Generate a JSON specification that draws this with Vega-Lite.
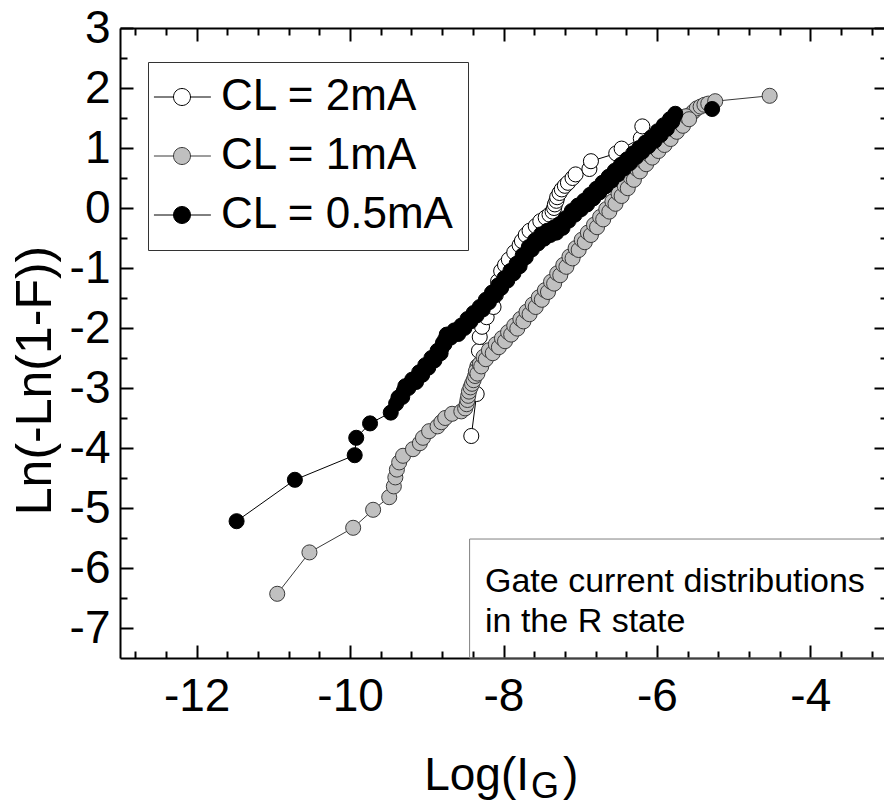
{
"$schema": "https://vega.github.io/schema/vega-lite/v6.json",
"width": 764, "height": 630,
"autosize": {"type": "none"},
"padding": {"left": 120, "top": 28, "right": 0, "bottom": 152},
"background": "white",
"config": {
  "view": {"stroke": null},
  "axis": {"grid": false, "domainColor": "black", "domainWidth": 2, "tickColor": "black", "tickWidth": 2, "labelFont": "Liberation Sans", "labelFontSize": 46, "labelColor": "black", "titleColor": "black", "titleFont": "Liberation Sans", "titleFontWeight": "normal", "labelFlush": false, "labelOverlap": false, "zindex": 1},
  "text": {"font": "Liberation Sans", "color": "black"}
},
"data": {"values": [
{"s":"CL = 2mA","x":-8.42,"y":-3.80},{"s":"CL = 2mA","x":-8.35,"y":-3.10},{"s":"CL = 2mA","x":-8.34,"y":-2.64},{"s":"CL = 2mA","x":-8.32,"y":-2.38},{"s":"CL = 2mA","x":-8.31,"y":-2.15},{"s":"CL = 2mA","x":-8.28,"y":-1.98},{"s":"CL = 2mA","x":-8.22,"y":-1.82},{"s":"CL = 2mA","x":-8.13,"y":-1.65},{"s":"CL = 2mA","x":-8.10,"y":-1.45},{"s":"CL = 2mA","x":-8.07,"y":-1.22},{"s":"CL = 2mA","x":-8.03,"y":-1.05},{"s":"CL = 2mA","x":-7.98,"y":-0.95},{"s":"CL = 2mA","x":-7.93,"y":-0.86},{"s":"CL = 2mA","x":-7.86,"y":-0.74},{"s":"CL = 2mA","x":-7.79,"y":-0.62},{"s":"CL = 2mA","x":-7.76,"y":-0.55},{"s":"CL = 2mA","x":-7.71,"y":-0.45},{"s":"CL = 2mA","x":-7.66,"y":-0.38},{"s":"CL = 2mA","x":-7.58,"y":-0.30},{"s":"CL = 2mA","x":-7.52,"y":-0.22},{"s":"CL = 2mA","x":-7.45,"y":-0.16},{"s":"CL = 2mA","x":-7.40,"y":-0.11},{"s":"CL = 2mA","x":-7.36,"y":-0.06},{"s":"CL = 2mA","x":-7.34,"y":0.00},{"s":"CL = 2mA","x":-7.33,"y":0.06},{"s":"CL = 2mA","x":-7.31,"y":0.12},{"s":"CL = 2mA","x":-7.30,"y":0.18},{"s":"CL = 2mA","x":-7.27,"y":0.25},{"s":"CL = 2mA","x":-7.24,"y":0.31},{"s":"CL = 2mA","x":-7.20,"y":0.37},{"s":"CL = 2mA","x":-7.16,"y":0.42},{"s":"CL = 2mA","x":-7.10,"y":0.50},{"s":"CL = 2mA","x":-7.06,"y":0.56},{"s":"CL = 2mA","x":-6.88,"y":0.65},{"s":"CL = 2mA","x":-6.86,"y":0.78},{"s":"CL = 2mA","x":-6.53,"y":0.91},{"s":"CL = 2mA","x":-6.46,"y":0.99},{"s":"CL = 2mA","x":-6.21,"y":1.16},{"s":"CL = 2mA","x":-6.19,"y":1.36},
{"s":"CL = 1mA","x":-10.95,"y":-6.43},{"s":"CL = 1mA","x":-10.53,"y":-5.74},{"s":"CL = 1mA","x":-9.96,"y":-5.33},{"s":"CL = 1mA","x":-9.70,"y":-5.03},{"s":"CL = 1mA","x":-9.49,"y":-4.82},{"s":"CL = 1mA","x":-9.43,"y":-4.64},{"s":"CL = 1mA","x":-9.41,"y":-4.49},{"s":"CL = 1mA","x":-9.39,"y":-4.36},{"s":"CL = 1mA","x":-9.36,"y":-4.24},{"s":"CL = 1mA","x":-9.31,"y":-4.13},{"s":"CL = 1mA","x":-9.18,"y":-4.02},{"s":"CL = 1mA","x":-9.09,"y":-3.92},{"s":"CL = 1mA","x":-9.05,"y":-3.83},{"s":"CL = 1mA","x":-8.97,"y":-3.72},{"s":"CL = 1mA","x":-8.86,"y":-3.64},{"s":"CL = 1mA","x":-8.81,"y":-3.57},{"s":"CL = 1mA","x":-8.76,"y":-3.50},{"s":"CL = 1mA","x":-8.67,"y":-3.43},{"s":"CL = 1mA","x":-8.55,"y":-3.39},{"s":"CL = 1mA","x":-8.50,"y":-3.34},{"s":"CL = 1mA","x":-8.48,"y":-3.27},{"s":"CL = 1mA","x":-8.47,"y":-3.20},{"s":"CL = 1mA","x":-8.46,"y":-3.13},{"s":"CL = 1mA","x":-8.45,"y":-3.06},{"s":"CL = 1mA","x":-8.43,"y":-2.99},{"s":"CL = 1mA","x":-8.41,"y":-2.93},{"s":"CL = 1mA","x":-8.39,"y":-2.87},{"s":"CL = 1mA","x":-8.37,"y":-2.80},{"s":"CL = 1mA","x":-8.35,"y":-2.74},{"s":"CL = 1mA","x":-8.33,"y":-2.68},{"s":"CL = 1mA","x":-8.30,"y":-2.62},{"s":"CL = 1mA","x":-8.28,"y":-2.56},{"s":"CL = 1mA","x":-8.25,"y":-2.50},{"s":"CL = 1mA","x":-8.21,"y":-2.45},{"s":"CL = 1mA","x":-8.17,"y":-2.40},{"s":"CL = 1mA","x":-8.12,"y":-2.35},{"s":"CL = 1mA","x":-8.08,"y":-2.30},{"s":"CL = 1mA","x":-8.04,"y":-2.25},{"s":"CL = 1mA","x":-8.00,"y":-2.20},{"s":"CL = 1mA","x":-7.96,"y":-2.15},{"s":"CL = 1mA","x":-7.92,"y":-2.09},{"s":"CL = 1mA","x":-7.88,"y":-2.04},{"s":"CL = 1mA","x":-7.84,"y":-1.99},{"s":"CL = 1mA","x":-7.80,"y":-1.93},{"s":"CL = 1mA","x":-7.76,"y":-1.87},{"s":"CL = 1mA","x":-7.72,"y":-1.81},{"s":"CL = 1mA","x":-7.68,"y":-1.75},{"s":"CL = 1mA","x":-7.64,"y":-1.69},{"s":"CL = 1mA","x":-7.60,"y":-1.63},{"s":"CL = 1mA","x":-7.56,"y":-1.57},{"s":"CL = 1mA","x":-7.52,"y":-1.51},{"s":"CL = 1mA","x":-7.48,"y":-1.45},{"s":"CL = 1mA","x":-7.44,"y":-1.39},{"s":"CL = 1mA","x":-7.40,"y":-1.32},{"s":"CL = 1mA","x":-7.36,"y":-1.25},{"s":"CL = 1mA","x":-7.32,"y":-1.18},{"s":"CL = 1mA","x":-7.28,"y":-1.11},{"s":"CL = 1mA","x":-7.24,"y":-1.04},{"s":"CL = 1mA","x":-7.20,"y":-0.97},{"s":"CL = 1mA","x":-7.16,"y":-0.90},{"s":"CL = 1mA","x":-7.12,"y":-0.83},{"s":"CL = 1mA","x":-7.08,"y":-0.76},{"s":"CL = 1mA","x":-7.04,"y":-0.69},{"s":"CL = 1mA","x":-7.00,"y":-0.62},{"s":"CL = 1mA","x":-6.96,"y":-0.55},{"s":"CL = 1mA","x":-6.92,"y":-0.49},{"s":"CL = 1mA","x":-6.88,"y":-0.43},{"s":"CL = 1mA","x":-6.84,"y":-0.37},{"s":"CL = 1mA","x":-6.80,"y":-0.30},{"s":"CL = 1mA","x":-6.76,"y":-0.24},{"s":"CL = 1mA","x":-6.72,"y":-0.17},{"s":"CL = 1mA","x":-6.68,"y":-0.11},{"s":"CL = 1mA","x":-6.64,"y":-0.04},{"s":"CL = 1mA","x":-6.60,"y":0.02},{"s":"CL = 1mA","x":-6.56,"y":0.09},{"s":"CL = 1mA","x":-6.52,"y":0.15},{"s":"CL = 1mA","x":-6.48,"y":0.22},{"s":"CL = 1mA","x":-6.44,"y":0.29},{"s":"CL = 1mA","x":-6.40,"y":0.35},{"s":"CL = 1mA","x":-6.36,"y":0.42},{"s":"CL = 1mA","x":-6.32,"y":0.49},{"s":"CL = 1mA","x":-6.28,"y":0.56},{"s":"CL = 1mA","x":-6.24,"y":0.63},{"s":"CL = 1mA","x":-6.20,"y":0.70},{"s":"CL = 1mA","x":-6.16,"y":0.76},{"s":"CL = 1mA","x":-6.12,"y":0.81},{"s":"CL = 1mA","x":-6.08,"y":0.87},{"s":"CL = 1mA","x":-6.04,"y":0.92},{"s":"CL = 1mA","x":-6.00,"y":0.98},{"s":"CL = 1mA","x":-5.96,"y":1.03},{"s":"CL = 1mA","x":-5.92,"y":1.08},{"s":"CL = 1mA","x":-5.88,"y":1.13},{"s":"CL = 1mA","x":-5.84,"y":1.18},{"s":"CL = 1mA","x":-5.80,"y":1.23},{"s":"CL = 1mA","x":-5.76,"y":1.29},{"s":"CL = 1mA","x":-5.72,"y":1.35},{"s":"CL = 1mA","x":-5.68,"y":1.40},{"s":"CL = 1mA","x":-5.64,"y":1.45},{"s":"CL = 1mA","x":-5.60,"y":1.51},{"s":"CL = 1mA","x":-5.56,"y":1.56},{"s":"CL = 1mA","x":-5.52,"y":1.61},{"s":"CL = 1mA","x":-5.48,"y":1.66},{"s":"CL = 1mA","x":-5.43,"y":1.69},{"s":"CL = 1mA","x":-5.38,"y":1.72},{"s":"CL = 1mA","x":-5.33,"y":1.74},{"s":"CL = 1mA","x":-5.24,"y":1.78},{"s":"CL = 1mA","x":-4.53,"y":1.87},
{"s":"CL = 1mA","x":-8.36,"y":-2.72},{"s":"CL = 1mA","x":-8.34,"y":-2.76},{"s":"CL = 1mA","x":-8.31,"y":-2.60},{"s":"CL = 1mA","x":-8.29,"y":-2.64},{"s":"CL = 1mA","x":-8.26,"y":-2.48},{"s":"CL = 1mA","x":-8.23,"y":-2.52},{"s":"CL = 1mA","x":-8.19,"y":-2.37},{"s":"CL = 1mA","x":-8.14,"y":-2.42},{"s":"CL = 1mA","x":-8.10,"y":-2.27},{"s":"CL = 1mA","x":-8.06,"y":-2.32},{"s":"CL = 1mA","x":-8.02,"y":-2.17},{"s":"CL = 1mA","x":-7.98,"y":-2.22},{"s":"CL = 1mA","x":-7.94,"y":-2.07},{"s":"CL = 1mA","x":-7.90,"y":-2.11},{"s":"CL = 1mA","x":-7.86,"y":-1.96},{"s":"CL = 1mA","x":-7.82,"y":-2.01},{"s":"CL = 1mA","x":-7.78,"y":-1.85},{"s":"CL = 1mA","x":-7.74,"y":-1.89},{"s":"CL = 1mA","x":-7.70,"y":-1.73},{"s":"CL = 1mA","x":-7.66,"y":-1.77},{"s":"CL = 1mA","x":-7.62,"y":-1.61},{"s":"CL = 1mA","x":-7.58,"y":-1.65},{"s":"CL = 1mA","x":-7.54,"y":-1.49},{"s":"CL = 1mA","x":-7.50,"y":-1.53},{"s":"CL = 1mA","x":-7.46,"y":-1.37},{"s":"CL = 1mA","x":-7.42,"y":-1.40},{"s":"CL = 1mA","x":-7.38,"y":-1.23},{"s":"CL = 1mA","x":-7.34,"y":-1.26},{"s":"CL = 1mA","x":-7.30,"y":-1.09},{"s":"CL = 1mA","x":-7.26,"y":-1.12},{"s":"CL = 1mA","x":-7.22,"y":-0.95},{"s":"CL = 1mA","x":-7.18,"y":-0.98},{"s":"CL = 1mA","x":-7.14,"y":-0.81},{"s":"CL = 1mA","x":-7.10,"y":-0.84},{"s":"CL = 1mA","x":-7.06,"y":-0.67},{"s":"CL = 1mA","x":-7.02,"y":-0.70},{"s":"CL = 1mA","x":-6.98,"y":-0.53},{"s":"CL = 1mA","x":-6.94,"y":-0.57},{"s":"CL = 1mA","x":-6.90,"y":-0.41},{"s":"CL = 1mA","x":-6.86,"y":-0.45},{"s":"CL = 1mA","x":-6.82,"y":-0.28},{"s":"CL = 1mA","x":-6.78,"y":-0.32},{"s":"CL = 1mA","x":-6.74,"y":-0.15},{"s":"CL = 1mA","x":-6.70,"y":-0.19},{"s":"CL = 1mA","x":-6.66,"y":-0.02},{"s":"CL = 1mA","x":-6.62,"y":-0.06},{"s":"CL = 1mA","x":-6.58,"y":0.11},{"s":"CL = 1mA","x":-6.54,"y":0.07},{"s":"CL = 1mA","x":-6.50,"y":0.24},{"s":"CL = 1mA","x":-6.46,"y":0.20},{"s":"CL = 1mA","x":-6.42,"y":0.37},{"s":"CL = 1mA","x":-6.38,"y":0.33},{"s":"CL = 1mA","x":-6.34,"y":0.51},{"s":"CL = 1mA","x":-6.30,"y":0.47},{"s":"CL = 1mA","x":-6.26,"y":0.65},{"s":"CL = 1mA","x":-6.22,"y":0.61},{"s":"CL = 1mA","x":-6.18,"y":0.78},{"s":"CL = 1mA","x":-6.14,"y":0.73},{"s":"CL = 1mA","x":-6.10,"y":0.89},{"s":"CL = 1mA","x":-6.06,"y":0.84},{"s":"CL = 1mA","x":-6.02,"y":1.00},{"s":"CL = 1mA","x":-5.98,"y":0.95},{"s":"CL = 1mA","x":-5.94,"y":1.10},{"s":"CL = 1mA","x":-5.90,"y":1.05},{"s":"CL = 1mA","x":-5.86,"y":1.20},{"s":"CL = 1mA","x":-5.82,"y":1.15},{"s":"CL = 1mA","x":-5.78,"y":1.31},{"s":"CL = 1mA","x":-5.74,"y":1.27},{"s":"CL = 1mA","x":-5.70,"y":1.42},{"s":"CL = 1mA","x":-5.66,"y":1.37},{"s":"CL = 1mA","x":-5.62,"y":1.53},{"s":"CL = 1mA","x":-5.58,"y":1.48},
{"s":"CL = 0.5mA","x":-11.48,"y":-5.22},{"s":"CL = 0.5mA","x":-10.72,"y":-4.53},{"s":"CL = 0.5mA","x":-9.94,"y":-4.12},{"s":"CL = 0.5mA","x":-9.92,"y":-3.83},{"s":"CL = 0.5mA","x":-9.74,"y":-3.59},{"s":"CL = 0.5mA","x":-9.47,"y":-3.41},{"s":"CL = 0.5mA","x":-9.40,"y":-3.26},{"s":"CL = 0.5mA","x":-9.35,"y":-3.15},{"s":"CL = 0.5mA","x":-9.30,"y":-3.05},{"s":"CL = 0.5mA","x":-9.27,"y":-2.98},{"s":"CL = 0.5mA","x":-9.22,"y":-2.93},{"s":"CL = 0.5mA","x":-9.17,"y":-2.88},{"s":"CL = 0.5mA","x":-9.12,"y":-2.82},{"s":"CL = 0.5mA","x":-9.08,"y":-2.76},{"s":"CL = 0.5mA","x":-9.04,"y":-2.70},{"s":"CL = 0.5mA","x":-9.00,"y":-2.64},{"s":"CL = 0.5mA","x":-8.96,"y":-2.58},{"s":"CL = 0.5mA","x":-8.92,"y":-2.52},{"s":"CL = 0.5mA","x":-8.88,"y":-2.46},{"s":"CL = 0.5mA","x":-8.84,"y":-2.40},{"s":"CL = 0.5mA","x":-8.81,"y":-2.34},{"s":"CL = 0.5mA","x":-8.78,"y":-2.26},{"s":"CL = 0.5mA","x":-8.76,"y":-2.19},{"s":"CL = 0.5mA","x":-8.72,"y":-2.13},{"s":"CL = 0.5mA","x":-8.67,"y":-2.10},{"s":"CL = 0.5mA","x":-8.62,"y":-2.07},{"s":"CL = 0.5mA","x":-8.57,"y":-2.03},{"s":"CL = 0.5mA","x":-8.53,"y":-1.98},{"s":"CL = 0.5mA","x":-8.49,"y":-1.93},{"s":"CL = 0.5mA","x":-8.45,"y":-1.87},{"s":"CL = 0.5mA","x":-8.41,"y":-1.82},{"s":"CL = 0.5mA","x":-8.37,"y":-1.77},{"s":"CL = 0.5mA","x":-8.33,"y":-1.72},{"s":"CL = 0.5mA","x":-8.29,"y":-1.67},{"s":"CL = 0.5mA","x":-8.25,"y":-1.61},{"s":"CL = 0.5mA","x":-8.21,"y":-1.55},{"s":"CL = 0.5mA","x":-8.17,"y":-1.49},{"s":"CL = 0.5mA","x":-8.13,"y":-1.43},{"s":"CL = 0.5mA","x":-8.09,"y":-1.37},{"s":"CL = 0.5mA","x":-8.05,"y":-1.31},{"s":"CL = 0.5mA","x":-8.01,"y":-1.25},{"s":"CL = 0.5mA","x":-7.97,"y":-1.19},{"s":"CL = 0.5mA","x":-7.93,"y":-1.13},{"s":"CL = 0.5mA","x":-7.89,"y":-1.07},{"s":"CL = 0.5mA","x":-7.85,"y":-1.01},{"s":"CL = 0.5mA","x":-7.81,"y":-0.95},{"s":"CL = 0.5mA","x":-7.77,"y":-0.88},{"s":"CL = 0.5mA","x":-7.73,"y":-0.80},{"s":"CL = 0.5mA","x":-7.69,"y":-0.73},{"s":"CL = 0.5mA","x":-7.65,"y":-0.67},{"s":"CL = 0.5mA","x":-7.61,"y":-0.61},{"s":"CL = 0.5mA","x":-7.57,"y":-0.56},{"s":"CL = 0.5mA","x":-7.53,"y":-0.51},{"s":"CL = 0.5mA","x":-7.49,"y":-0.47},{"s":"CL = 0.5mA","x":-7.45,"y":-0.44},{"s":"CL = 0.5mA","x":-7.41,"y":-0.41},{"s":"CL = 0.5mA","x":-7.37,"y":-0.39},{"s":"CL = 0.5mA","x":-7.33,"y":-0.37},{"s":"CL = 0.5mA","x":-7.29,"y":-0.34},{"s":"CL = 0.5mA","x":-7.25,"y":-0.30},{"s":"CL = 0.5mA","x":-7.21,"y":-0.25},{"s":"CL = 0.5mA","x":-7.17,"y":-0.19},{"s":"CL = 0.5mA","x":-7.13,"y":-0.13},{"s":"CL = 0.5mA","x":-7.09,"y":-0.08},{"s":"CL = 0.5mA","x":-7.05,"y":-0.04},{"s":"CL = 0.5mA","x":-7.01,"y":0.01},{"s":"CL = 0.5mA","x":-6.97,"y":0.05},{"s":"CL = 0.5mA","x":-6.93,"y":0.09},{"s":"CL = 0.5mA","x":-6.89,"y":0.14},{"s":"CL = 0.5mA","x":-6.85,"y":0.19},{"s":"CL = 0.5mA","x":-6.81,"y":0.24},{"s":"CL = 0.5mA","x":-6.77,"y":0.29},{"s":"CL = 0.5mA","x":-6.73,"y":0.34},{"s":"CL = 0.5mA","x":-6.69,"y":0.39},{"s":"CL = 0.5mA","x":-6.65,"y":0.44},{"s":"CL = 0.5mA","x":-6.61,"y":0.49},{"s":"CL = 0.5mA","x":-6.57,"y":0.54},{"s":"CL = 0.5mA","x":-6.53,"y":0.59},{"s":"CL = 0.5mA","x":-6.49,"y":0.64},{"s":"CL = 0.5mA","x":-6.45,"y":0.69},{"s":"CL = 0.5mA","x":-6.41,"y":0.74},{"s":"CL = 0.5mA","x":-6.37,"y":0.78},{"s":"CL = 0.5mA","x":-6.33,"y":0.83},{"s":"CL = 0.5mA","x":-6.29,"y":0.88},{"s":"CL = 0.5mA","x":-6.25,"y":0.93},{"s":"CL = 0.5mA","x":-6.21,"y":0.97},{"s":"CL = 0.5mA","x":-6.17,"y":1.02},{"s":"CL = 0.5mA","x":-6.13,"y":1.06},{"s":"CL = 0.5mA","x":-6.09,"y":1.10},{"s":"CL = 0.5mA","x":-6.05,"y":1.15},{"s":"CL = 0.5mA","x":-6.01,"y":1.20},{"s":"CL = 0.5mA","x":-5.97,"y":1.25},{"s":"CL = 0.5mA","x":-5.93,"y":1.30},{"s":"CL = 0.5mA","x":-5.89,"y":1.35},{"s":"CL = 0.5mA","x":-5.85,"y":1.40},{"s":"CL = 0.5mA","x":-5.81,"y":1.46},{"s":"CL = 0.5mA","x":-5.78,"y":1.52},{"s":"CL = 0.5mA","x":-5.76,"y":1.57},{"s":"CL = 0.5mA","x":-5.28,"y":1.65},
{"s":"CL = 0.5mA","x":-9.37,"y":-3.16},{"s":"CL = 0.5mA","x":-9.32,"y":-3.15},{"s":"CL = 0.5mA","x":-9.28,"y":-2.97},{"s":"CL = 0.5mA","x":-9.24,"y":-3.00},{"s":"CL = 0.5mA","x":-9.19,"y":-2.86},{"s":"CL = 0.5mA","x":-9.14,"y":-2.90},{"s":"CL = 0.5mA","x":-9.10,"y":-2.74},{"s":"CL = 0.5mA","x":-9.06,"y":-2.78},{"s":"CL = 0.5mA","x":-9.02,"y":-2.62},{"s":"CL = 0.5mA","x":-8.98,"y":-2.66},{"s":"CL = 0.5mA","x":-8.94,"y":-2.50},{"s":"CL = 0.5mA","x":-8.90,"y":-2.54},{"s":"CL = 0.5mA","x":-8.86,"y":-2.38},{"s":"CL = 0.5mA","x":-8.82,"y":-2.42},{"s":"CL = 0.5mA","x":-8.79,"y":-2.25},{"s":"CL = 0.5mA","x":-8.77,"y":-2.27},{"s":"CL = 0.5mA","x":-8.74,"y":-2.11},{"s":"CL = 0.5mA","x":-8.69,"y":-2.16},{"s":"CL = 0.5mA","x":-8.64,"y":-2.04},{"s":"CL = 0.5mA","x":-8.59,"y":-2.10},{"s":"CL = 0.5mA","x":-8.55,"y":-1.96},{"s":"CL = 0.5mA","x":-8.51,"y":-2.00},{"s":"CL = 0.5mA","x":-8.47,"y":-1.85},{"s":"CL = 0.5mA","x":-8.43,"y":-1.89},{"s":"CL = 0.5mA","x":-8.39,"y":-1.75},{"s":"CL = 0.5mA","x":-8.35,"y":-1.79},{"s":"CL = 0.5mA","x":-8.31,"y":-1.65},{"s":"CL = 0.5mA","x":-8.27,"y":-1.69},{"s":"CL = 0.5mA","x":-8.23,"y":-1.53},{"s":"CL = 0.5mA","x":-8.19,"y":-1.57},{"s":"CL = 0.5mA","x":-8.15,"y":-1.41},{"s":"CL = 0.5mA","x":-8.11,"y":-1.45},{"s":"CL = 0.5mA","x":-8.07,"y":-1.29},{"s":"CL = 0.5mA","x":-8.03,"y":-1.33},{"s":"CL = 0.5mA","x":-7.99,"y":-1.17},{"s":"CL = 0.5mA","x":-7.95,"y":-1.21},{"s":"CL = 0.5mA","x":-7.91,"y":-1.05},{"s":"CL = 0.5mA","x":-7.87,"y":-1.09},{"s":"CL = 0.5mA","x":-7.83,"y":-0.93},{"s":"CL = 0.5mA","x":-7.79,"y":-0.97},{"s":"CL = 0.5mA","x":-7.75,"y":-0.79},{"s":"CL = 0.5mA","x":-7.71,"y":-0.82},{"s":"CL = 0.5mA","x":-7.67,"y":-0.65},{"s":"CL = 0.5mA","x":-7.63,"y":-0.69},{"s":"CL = 0.5mA","x":-7.59,"y":-0.54},{"s":"CL = 0.5mA","x":-7.55,"y":-0.59},{"s":"CL = 0.5mA","x":-7.51,"y":-0.44},{"s":"CL = 0.5mA","x":-7.47,"y":-0.51},{"s":"CL = 0.5mA","x":-7.43,"y":-0.38},{"s":"CL = 0.5mA","x":-7.39,"y":-0.45},{"s":"CL = 0.5mA","x":-7.35,"y":-0.33},{"s":"CL = 0.5mA","x":-7.31,"y":-0.41},{"s":"CL = 0.5mA","x":-7.27,"y":-0.27},{"s":"CL = 0.5mA","x":-7.23,"y":-0.33},{"s":"CL = 0.5mA","x":-7.19,"y":-0.17},{"s":"CL = 0.5mA","x":-7.15,"y":-0.21},{"s":"CL = 0.5mA","x":-7.11,"y":-0.05},{"s":"CL = 0.5mA","x":-7.07,"y":-0.11},{"s":"CL = 0.5mA","x":-7.03,"y":0.04},{"s":"CL = 0.5mA","x":-6.99,"y":-0.02},{"s":"CL = 0.5mA","x":-6.95,"y":0.12},{"s":"CL = 0.5mA","x":-6.91,"y":0.06},{"s":"CL = 0.5mA","x":-6.87,"y":0.22},{"s":"CL = 0.5mA","x":-6.83,"y":0.16},{"s":"CL = 0.5mA","x":-6.79,"y":0.32},{"s":"CL = 0.5mA","x":-6.75,"y":0.26},{"s":"CL = 0.5mA","x":-6.71,"y":0.42},{"s":"CL = 0.5mA","x":-6.67,"y":0.36},{"s":"CL = 0.5mA","x":-6.63,"y":0.52},{"s":"CL = 0.5mA","x":-6.59,"y":0.46},{"s":"CL = 0.5mA","x":-6.55,"y":0.62},{"s":"CL = 0.5mA","x":-6.51,"y":0.56},{"s":"CL = 0.5mA","x":-6.47,"y":0.72},{"s":"CL = 0.5mA","x":-6.43,"y":0.66},{"s":"CL = 0.5mA","x":-6.39,"y":0.81},{"s":"CL = 0.5mA","x":-6.35,"y":0.75},{"s":"CL = 0.5mA","x":-6.31,"y":0.91},{"s":"CL = 0.5mA","x":-6.27,"y":0.85},{"s":"CL = 0.5mA","x":-6.23,"y":1.00},{"s":"CL = 0.5mA","x":-6.19,"y":0.94},{"s":"CL = 0.5mA","x":-6.15,"y":1.09},{"s":"CL = 0.5mA","x":-6.11,"y":1.03},{"s":"CL = 0.5mA","x":-6.07,"y":1.18},{"s":"CL = 0.5mA","x":-6.03,"y":1.12},{"s":"CL = 0.5mA","x":-5.99,"y":1.28},{"s":"CL = 0.5mA","x":-5.95,"y":1.22},{"s":"CL = 0.5mA","x":-5.91,"y":1.38},{"s":"CL = 0.5mA","x":-5.87,"y":1.32},{"s":"CL = 0.5mA","x":-5.83,"y":1.48},{"s":"CL = 0.5mA","x":-5.80,"y":1.44}
]},
"resolve": {"axis": {"x": "independent", "y": "independent"}},
"layer": [
 {"mark": {"type": "line", "strokeWidth": 1},
  "encoding": {
   "x": {"field": "x", "type": "quantitative", "scale": {"domain": [-13, -3], "range": [0, 767], "nice": false, "zero": false},
         "axis": {"orient": "bottom", "values": [-12, -10, -8, -6, -4], "tickSize": -13, "labelPadding": 65, "labelBaseline": "alphabetic", "labelExpr": "datum.value + ''", "title": null, "domain": true}},
   "y": {"field": "y", "type": "quantitative", "scale": {"domain": [-7.5, 3], "nice": false, "zero": false},
         "axis": {"orient": "left", "values": [-7, -6, -5, -4, -3, -2, -1, 0, 1, 2, 3], "tickSize": -13, "labelPadding": 23, "labelExpr": "datum.value + ''", "domain": true,
                  "title": "Ln(-Ln(1-F))", "titleFontSize": 50, "titleX": -70, "titleY": 352, "titleAngle": 270, "titleBaseline": "alphabetic", "titleAlign": "center"}},
   "order": {"field": "x", "type": "quantitative"},
   "stroke": {"field": "s", "type": "nominal",
     "scale": {"domain": ["CL = 2mA", "CL = 1mA", "CL = 0.5mA"], "range": ["black", "#3a3a3a", "black"]},
     "legend": {"orient": "none", "legendX": 28, "legendY": 34, "title": null, "symbolType": "M-3.3,0L-1,0M1,0L3.4,0M-1,0A1,1,0,1,0,1,0A1,1,0,1,0,-1,0Z", "symbolSize": 289, "symbolStrokeWidth": 1, "symbolOffset": -1, "labelOffset": 17, "labelLimit": 400, "labelFont": "Liberation Sans", "labelFontSize": 44, "labelColor": "black", "padding": 13, "rowPadding": 15, "strokeColor": "#333", "fillColor": "white"}}
  }},
 {"mark": {"type": "point", "filled": true, "shape": "circle", "size": 227, "opacity": 1, "strokeWidth": 1},
  "encoding": {
   "x": {"field": "x", "type": "quantitative", "scale": {"domain": [-13, -3], "range": [0, 767], "nice": false, "zero": false},
         "axis": {"orient": "bottom", "values": [-12.8, -12.4, -11.6, -11.2, -10.8, -10.4, -9.6, -9.2, -8.8, -8.4, -7.6, -7.2, -6.8, -6.4, -5.6, -5.2, -4.8, -4.4, -3.6, -3.2], "tickSize": -7, "labels": false, "domain": false, "title": null}},
   "y": {"field": "y", "type": "quantitative", "scale": {"domain": [-7.5, 3], "nice": false, "zero": false},
         "axis": {"orient": "left", "values": [-6.5, -5.5, -4.5, -3.5, -2.5, -1.5, -0.5, 0.5, 1.5, 2.5], "tickSize": -7, "labels": false, "domain": false, "title": null}},
   "fill": {"field": "s", "type": "nominal",
     "scale": {"domain": ["CL = 2mA", "CL = 1mA", "CL = 0.5mA"], "range": ["white", "#c0c0c0", "black"]},
     "legend": {"orient": "none", "legendX": 28, "legendY": 34, "title": null, "symbolType": "M-3.3,0L-1,0M1,0L3.4,0M-1,0A1,1,0,1,0,1,0A1,1,0,1,0,-1,0Z", "symbolSize": 289, "symbolStrokeWidth": 1, "symbolOffset": -1, "labelOffset": 17, "labelLimit": 400, "labelFont": "Liberation Sans", "labelFontSize": 44, "labelColor": "black", "padding": 13, "rowPadding": 15, "strokeColor": "#333", "fillColor": "white"}},
   "stroke": {"field": "s", "type": "nominal",
     "scale": {"domain": ["CL = 2mA", "CL = 1mA", "CL = 0.5mA"], "range": ["black", "#3a3a3a", "black"]},
     "legend": {"orient": "none", "legendX": 28, "legendY": 34, "title": null, "symbolType": "M-3.3,0L-1,0M1,0L3.4,0M-1,0A1,1,0,1,0,1,0A1,1,0,1,0,-1,0Z", "symbolSize": 289, "symbolStrokeWidth": 1, "symbolOffset": -1, "labelOffset": 17, "labelLimit": 400, "labelFont": "Liberation Sans", "labelFontSize": 44, "labelColor": "black", "padding": 13, "rowPadding": 15, "strokeColor": "#333", "fillColor": "white"}}
  }},
 {"data": {"values": [{}]},
  "mark": {"type": "rect", "filled": false, "stroke": "#808080", "strokeWidth": 1},
  "encoding": {
   "x": {"datum": -8.442, "type": "quantitative", "scale": {"domain": [-13, -3], "range": [0, 767], "nice": false, "zero": false},
         "axis": {"orient": "top", "values": [-12, -10, -8, -6, -4], "tickSize": -13, "labels": false, "domain": true, "title": null}},
   "x2": {"datum": -2.9},
   "y": {"datum": -7.5, "type": "quantitative", "scale": {"domain": [-7.5, 3], "nice": false, "zero": false},
         "axis": {"orient": "right", "offset": 3, "values": [-7, -6, -5, -4, -3, -2, -1, 0, 1, 2, 3], "tickSize": -13, "labels": false, "domain": true, "title": null}},
   "y2": {"datum": -5.517}
  }},
 {"data": {"values": [{}]},
  "mark": {"type": "text", "text": ["Gate current distributions", "in the R state"], "align": "left", "baseline": "alphabetic", "font": "Liberation Sans", "fontSize": 34, "lineHeight": 40},
  "encoding": {
   "x": {"datum": -8.241, "type": "quantitative", "scale": {"domain": [-13, -3], "range": [0, 767], "nice": false, "zero": false},
         "axis": {"orient": "top", "values": [-12.8, -12.4, -11.6, -11.2, -10.8, -10.4, -9.6, -9.2, -8.8, -8.4, -7.6, -7.2, -6.8, -6.4, -5.6, -5.2, -4.8, -4.4, -3.6, -3.2], "tickSize": -7, "labels": false, "domain": false, "title": null}},
   "y": {"datum": -6.4, "type": "quantitative", "scale": {"domain": [-7.5, 3], "nice": false, "zero": false},
         "axis": {"orient": "right", "offset": 3, "values": [-6.5, -5.5, -4.5, -3.5, -2.5, -1.5, -0.5, 0.5, 1.5, 2.5], "tickSize": -7, "labels": false, "domain": false, "title": null}}
  }},
 {"data": {"values": [{}]},
  "mark": {"type": "text", "text": "Log(I", "align": "right", "baseline": "alphabetic", "font": "Liberation Sans", "fontSize": 46},
  "encoding": {
   "x": {"datum": -7.667, "type": "quantitative", "scale": {"domain": [-13, -3], "range": [0, 767], "nice": false, "zero": false}, "axis": null},
   "y": {"datum": -9.7, "type": "quantitative", "scale": {"domain": [-7.5, 3], "nice": false, "zero": false}, "axis": null}
  }},
 {"data": {"values": [{}]},
  "mark": {"type": "text", "text": "G", "align": "left", "baseline": "alphabetic", "font": "Liberation Sans", "fontSize": 36},
  "encoding": {
   "x": {"datum": -7.641, "type": "quantitative", "scale": {"domain": [-13, -3], "range": [0, 767], "nice": false, "zero": false}, "axis": null},
   "y": {"datum": -9.833, "type": "quantitative", "scale": {"domain": [-7.5, 3], "nice": false, "zero": false}, "axis": null}
  }},
 {"data": {"values": [{}]},
  "mark": {"type": "text", "text": ")", "align": "left", "baseline": "alphabetic", "font": "Liberation Sans", "fontSize": 46},
  "encoding": {
   "x": {"datum": -7.224, "type": "quantitative", "scale": {"domain": [-13, -3], "range": [0, 767], "nice": false, "zero": false}, "axis": null},
   "y": {"datum": -9.7, "type": "quantitative", "scale": {"domain": [-7.5, 3], "nice": false, "zero": false}, "axis": null}
  }}
]
}
